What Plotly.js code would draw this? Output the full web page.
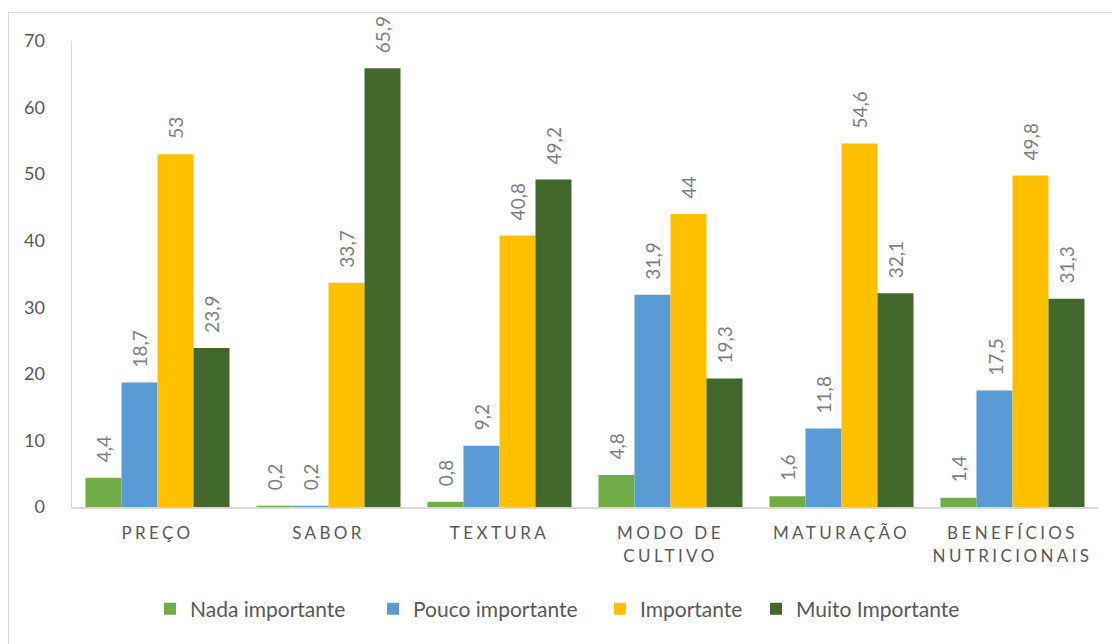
<!DOCTYPE html>
<html>
<head>
<meta charset="utf-8">
<script src="https://cdn.plot.ly/plotly-3.0.1.min.js"></script>
<style>
  html, body { margin: 0; padding: 0; background: #fff; }
  #frame { position: absolute; left: 8px; top: 12px; width: 1200px; height: 700px; border: 1px solid #d9d9d9; box-sizing: border-box; }
  #chart { position: absolute; left: 0; top: 0; width: 1112px; height: 644px; }
  .xtick text { letter-spacing: 3.4px; }
</style>
</head>
<body>
<div id="frame"></div>
<div id="chart"></div>
<script>
const categories = ["PREÇO", "SABOR", "TEXTURA", "MODO DE<br>CULTIVO", "MATURAÇÃO", "BENEFÍCIOS<br>NUTRICIONAIS"];
const seriesNames = ["Nada importante", "Pouco importante", "Importante", "Muito Importante"];
const nadaImportante = [4.4, 0.2, 0.8, 4.8, 1.6, 1.4];
const poucoImportante = [18.7, 0.2, 9.2, 31.9, 11.8, 17.5];
const importante = [53, 33.7, 40.8, 44, 54.6, 49.8];
const muitoImportante = [23.9, 65.9, 49.2, 19.3, 32.1, 31.3];
const colors = ["#70AD47", "#5B9BD5", "#FFC000", "#43682B"];

const allSeries = [nadaImportante, poucoImportante, importante, muitoImportante];
const fontFam = "Lato, 'Open Sans', sans-serif";
const bargap = 0.158;
const barW = (1 - bargap) / allSeries.length;
// horizontal placement of each legend entry (paper fraction)
const legendX = [0.0760, 0.2934, 0.5146, 0.6667];
const legendIds = ["legend", "legend2", "legend3", "legend4"];

const traces = allSeries.map((vals, i) => ({
  type: "bar",
  name: seriesNames[i],
  x: categories,
  y: vals,
  legend: legendIds[i],
  marker: { color: colors[i], line: { width: 0 } },
  hoverinfo: "x+y"
}));

// data labels: rotated, placed above each bar via axis coordinates
const annotations = [];
allSeries.forEach((vals, i) => {
  vals.forEach((v, j) => {
    annotations.push({
      xref: "x", yref: "y",
      x: j + (i - (allSeries.length - 1) / 2) * barW,
      y: v,
      text: String(v).replace(".", ","),
      showarrow: false,
      textangle: -90,
      xanchor: "center",
      yanchor: "bottom",
      yshift: 13,
      font: { family: fontFam, size: 19, color: "#7f7f7f" }
    });
  });
});

const layout = {
  width: 1112,
  height: 644,
  paper_bgcolor: "rgba(0,0,0,0)",
  plot_bgcolor: "rgba(0,0,0,0)",
  margin: { l: 72, r: 14, t: 41, b: 137 },
  barmode: "group",
  bargap: bargap,
  bargroupgap: 0,
  font: { family: fontFam, color: "#595959" },
  annotations: annotations,
  xaxis: {
    type: "category",
    showline: true,
    linecolor: "#d9d9d9",
    linewidth: 2,
    ticks: "",
    showgrid: false,
    tickfont: { family: fontFam, size: 17, color: "#595959" },
    ticklabelstandoff: 10
  },
  yaxis: {
    range: [0, 70],
    dtick: 10,
    tick0: 0,
    showgrid: false,
    zeroline: false,
    showline: true,
    linecolor: "#d9d9d9",
    linewidth: 1.5,
    ticks: "",
    ticklabelstandoff: 22,
    tickfont: { family: fontFam, size: 18, color: "#595959" }
  },
  showlegend: true
};

legendIds.forEach((id, i) => {
  layout[id] = {
    orientation: "h",
    x: legendX[i],
    xanchor: "left",
    y: -0.219,
    yanchor: "middle",
    font: { family: fontFam, size: 21, color: "#595959" },
    itemwidth: 30,
    bgcolor: "rgba(0,0,0,0)"
  };
});

Plotly.newPlot("chart", traces, layout, { displayModeBar: false, staticPlot: true });
</script>
</body>
</html>
